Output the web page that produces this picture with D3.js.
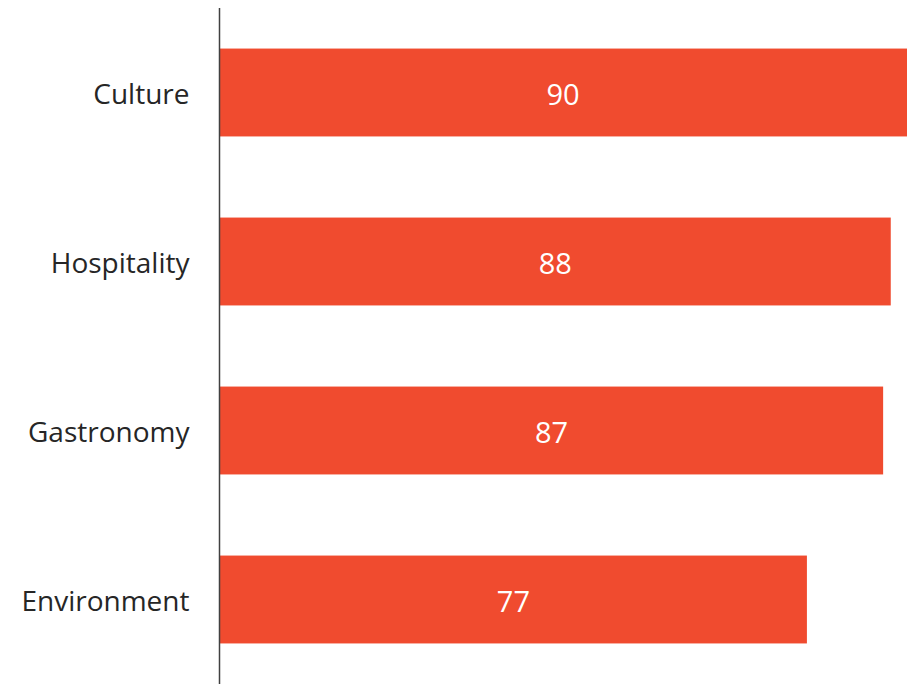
<!DOCTYPE html>
<html>
<head>
<meta charset="utf-8">
<script src="https://cdn.jsdelivr.net/npm/d3@7"></script>
<style>
  html, body { margin: 0; padding: 0; background: #fff; }
  svg { display: block; }
</style>
</head>
<body>
<svg id="chart" width="907" height="684"></svg>
<script>
const categories = ["Culture", "Hospitality", "Gastronomy", "Environment"];
const scores = [90, 88, 87, 77];

const width = 907, height = 684;
const axisX = 219.5;

const svg = d3.select("#chart");

const y = d3.scaleBand()
  .domain(categories)
  .range([8, 684])
  .paddingInner(0.48)
  .paddingOuter(0.24);

const x = d3.scaleLinear()
  .domain([0, 90])
  .range([220, 906]);

// bars
svg.append("g")
  .selectAll("rect")
  .data(categories)
  .join("rect")
  .attr("x", x(0))
  .attr("y", d => y(d))
  .attr("width", (d, i) => x(scores[i]) - x(0) + (i === 0 ? 1 : 0))
  .attr("height", y.bandwidth())
  .attr("fill", "#F04B2F");

// value labels centred in each bar
svg.append("g")
  .selectAll("text")
  .data(categories)
  .join("text")
  .attr("x", (d, i) => (x(0) + x(scores[i])) / 2)
  .attr("y", d => y(d) + y.bandwidth() / 2 + 2)
  .attr("dy", "0.35em")
  .attr("text-anchor", "middle")
  .attr("fill", "#fff")
  .style("font-family", "'Open Sans', sans-serif")
  .style("font-size", "29px")
  .text((d, i) => scores[i]);

// category axis
const axis = svg.append("g")
  .attr("transform", `translate(${axisX},0)`)
  .call(d3.axisLeft(y).tickSize(0).tickPadding(30));
axis.select(".domain").remove();
axis.selectAll("text")
  .attr("fill", "#262626")
  .attr("dy", "0.4em")
  .style("font-family", "'Open Sans', sans-serif")
  .style("font-size", "28px");

svg.append("line")
  .attr("x1", axisX).attr("x2", axisX)
  .attr("y1", 8).attr("y2", 684)
  .attr("stroke", "#404040")
  .attr("stroke-width", 1.5);
</script>
</body>
</html>
